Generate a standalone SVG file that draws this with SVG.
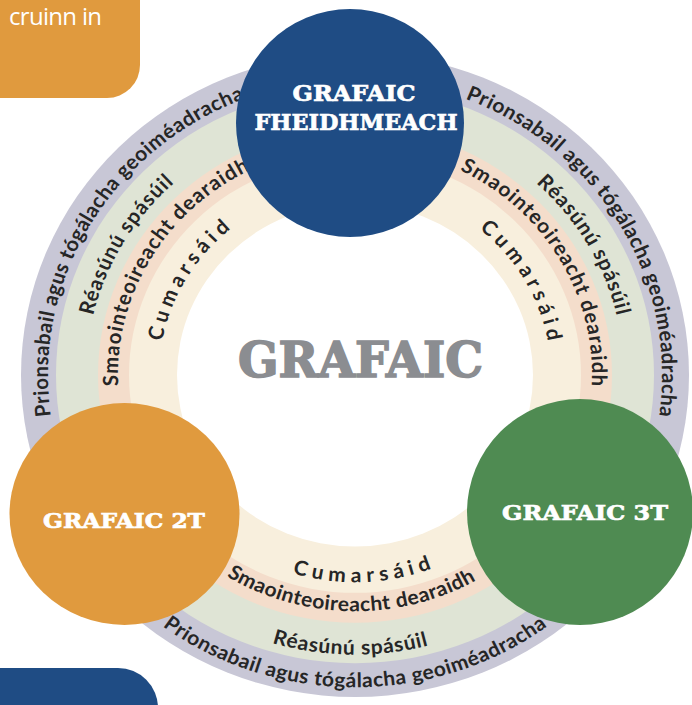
<svg xmlns="http://www.w3.org/2000/svg" xmlns:xlink="http://www.w3.org/1999/xlink" width="692" height="705" viewBox="0 0 692 705">
  <style>
    .rt { font-family: Lato, "Liberation Sans", sans-serif; font-weight: 700; font-size: 21px; fill: #262626; }
    .slab { font-family: "DejaVu Serif", "Liberation Serif", serif; font-weight: bold; fill: #ffffff; stroke: #ffffff; stroke-width: 0.7px; }
    .box-text { font-family: "Open Sans", "Liberation Sans", sans-serif; font-size: 24px; fill: #ffffff; }
  </style>
  <defs>
    <path id="pL1" d="M -267.2 151.2 A 307 307 0 0 1 2.68 -307"/>
    <path id="pL2" d="M -234.1 132.5 A 269 269 0 0 1 2.35 -269"/>
    <path id="pL3" d="M -206.3 116.7 A 237 237 0 0 1 2.07 -237"/>
    <path id="pL4" d="M -170.6 96.5 A 196 196 0 0 1 1.71 -196"/>
    <path id="pR1" d="M -2.68 -307 A 307 307 0 0 1 267.2 151.2"/>
    <path id="pR2" d="M -2.35 -269 A 269 269 0 0 1 234.1 132.5"/>
    <path id="pR3" d="M -2.07 -237 A 237 237 0 0 1 206.3 116.7"/>
    <path id="pR4" d="M -1.71 -196 A 196 196 0 0 1 170.6 96.5"/>
    <path id="pB1" d="M -280.6 162.0 A 324 324 0 0 0 280.6 162.0"/>
    <path id="pB2" d="M -253.6 140.6 A 290 290 0 0 0 248.6 149.4"/>
    <path id="pB3" d="M -214.3 118.8 A 245 245 0 0 0 210.0 126.2"/>
    <path id="pB4" d="M -182.3 114.0 A 215 215 0 0 0 189.6 101.3"/>
  </defs>

  <rect width="692" height="705" fill="#ffffff"/>

  <g id="corner-box-top">
    <rect x="-50" y="-50" width="190" height="148" rx="33" fill="#e09a3e"/>
    <text class="box-text" x="9" y="25" textLength="93">cruinn in</text>
  </g>

  <g id="corner-box-bottom">
    <rect x="-50" y="668" width="208" height="100" rx="40" fill="#1f4c84"/>
  </g>

  <g id="ring" transform="translate(355 375) scale(1 0.964)">
    <circle r="334" fill="#c8c7d6"/>
    <circle r="299" fill="#dfe4d5"/>
    <circle r="257" fill="#f4ddcb"/>
    <circle r="226" fill="#f8efdd"/>
    <circle r="178" fill="#ffffff"/>

    <g id="ring-left">
      <text class="rt" text-anchor="middle"><textPath xlink:href="#pL1" href="#pL1" startOffset="50%" textLength="412">Prionsabail agus tógálacha geoiméadracha</textPath></text>
      <text class="rt" text-anchor="middle"><textPath xlink:href="#pL2" href="#pL2" startOffset="50%" textLength="162">Réasúnú spásúil</textPath></text>
      <text class="rt" text-anchor="middle"><textPath xlink:href="#pL3" href="#pL3" startOffset="50%" textLength="275">Smaointeoireacht dearaidh</textPath></text>
      <text class="rt" text-anchor="middle"><textPath xlink:href="#pL4" href="#pL4" startOffset="50%" textLength="138">Cumarsáid</textPath></text>
    </g>
    <g id="ring-right">
      <text class="rt" text-anchor="middle"><textPath xlink:href="#pR1" href="#pR1" startOffset="50%" textLength="412">Prionsabail agus tógálacha geoiméadracha</textPath></text>
      <text class="rt" text-anchor="middle"><textPath xlink:href="#pR2" href="#pR2" startOffset="50%" textLength="162">Réasúnú spásúil</textPath></text>
      <text class="rt" text-anchor="middle"><textPath xlink:href="#pR3" href="#pR3" startOffset="50%" textLength="275">Smaointeoireacht dearaidh</textPath></text>
      <text class="rt" text-anchor="middle"><textPath xlink:href="#pR4" href="#pR4" startOffset="50%" textLength="138">Cumarsáid</textPath></text>
    </g>
    <g id="ring-bottom">
      <text class="rt" text-anchor="middle"><textPath xlink:href="#pB1" href="#pB1" startOffset="50%" textLength="412">Prionsabail agus tógálacha geoiméadracha</textPath></text>
      <text class="rt" text-anchor="middle"><textPath xlink:href="#pB2" href="#pB2" startOffset="50%" textLength="158">Réasúnú spásúil</textPath></text>
      <text class="rt" text-anchor="middle"><textPath xlink:href="#pB3" href="#pB3" startOffset="50%" textLength="262">Smaointeoireacht dearaidh</textPath></text>
      <text class="rt" text-anchor="middle"><textPath xlink:href="#pB4" href="#pB4" startOffset="50%" textLength="142">Cumarsáid</textPath></text>
    </g>
  </g>

  <g id="connectors"/>

  <g id="center-label">
    <text class="slab" x="360.5" y="377" font-size="48" text-anchor="middle" textLength="245" lengthAdjust="spacingAndGlyphs" style="fill:#8b8d91;stroke:#8b8d91;stroke-width:1.6px">GRAFAIC</text>
  </g>

  <g id="node-fheidhmeach">
    <circle cx="350" cy="123" r="114" fill="#1f4c84"/>
    <text class="slab" x="354" y="101" font-size="23" text-anchor="middle" textLength="123" lengthAdjust="spacingAndGlyphs">GRAFAIC</text>
    <text class="slab" x="356" y="130" font-size="23" text-anchor="middle" textLength="203" lengthAdjust="spacingAndGlyphs">FHEIDHMEACH</text>
  </g>

  <g id="node-2t">
    <ellipse cx="124.5" cy="514" rx="115" ry="111" fill="#e09a3e"/>
    <text class="slab" x="124" y="528" font-size="21" text-anchor="middle" textLength="162" lengthAdjust="spacingAndGlyphs">GRAFAIC 2T</text>
  </g>

  <g id="node-3t">
    <circle cx="580" cy="512" r="113" fill="#4f8b52"/>
    <text class="slab" x="585" y="520" font-size="21" text-anchor="middle" textLength="166" lengthAdjust="spacingAndGlyphs">GRAFAIC 3T</text>
  </g>
</svg>
